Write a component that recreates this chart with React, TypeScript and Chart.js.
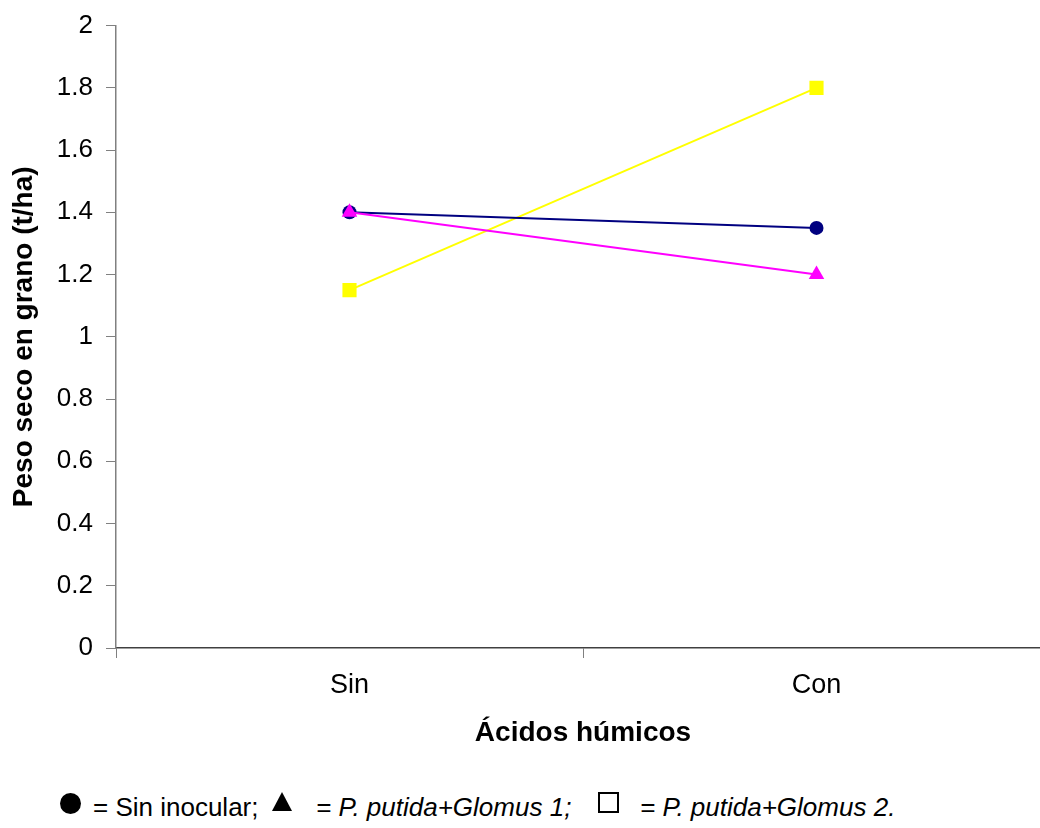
import React, { useEffect, useRef } from "react";
import { Chart, registerables } from "chart.js";

Chart.register(...registerables);

// Categories on the x axis (humic acids applied or not)
const categories = ["Sin", "Con"];

// Grain dry weight (t/ha) per treatment
const sinInocular = [1.4, 1.35];
const putidaGlomus1 = [1.4, 1.2];
const putidaGlomus2 = [1.15, 1.8];

// Y axis range
const yMin = 0;
const yMax = 2;
const yStep = 0.2;

const FONT = "Arial, 'Liberation Sans', sans-serif";

export default function App() {
  const canvasRef = useRef<HTMLCanvasElement | null>(null);

  useEffect(() => {
    if (!canvasRef.current) return;
    const chart = new Chart(canvasRef.current, {
      type: "line",
      data: {
        labels: categories,
        datasets: [
          {
            label: "Sin inocular",
            data: sinInocular,
            borderColor: "#000080",
            backgroundColor: "#000080",
            borderWidth: 2,
            pointStyle: "circle",
            pointRadius: 7,
            pointBorderWidth: 0,
            order: 2,
          },
          {
            label: "P. putida+Glomus 1",
            data: putidaGlomus1,
            borderColor: "#FF00FF",
            backgroundColor: "#FF00FF",
            borderWidth: 2,
            pointStyle: "triangle",
            pointRadius: 9,
            pointBorderWidth: 0,
            order: 1,
          },
          {
            label: "P. putida+Glomus 2",
            data: putidaGlomus2,
            borderColor: "#FFFF00",
            backgroundColor: "#FFFF00",
            borderWidth: 2,
            pointStyle: "rect",
            pointRadius: 10,
            pointBorderWidth: 0,
            order: 3,
          },
        ],
      },
      options: {
        animation: false,
        responsive: false,
        maintainAspectRatio: false,
        layout: { padding: { top: 22, right: 8, left: 0, bottom: 0 } },
        plugins: {
          legend: { display: false },
          tooltip: { enabled: false },
        },
        elements: { line: { tension: 0 } },
        scales: {
          x: {
            type: "category",
            offset: true,
            grid: {
              offset: true,
              drawOnChartArea: false,
              drawTicks: true,
              tickLength: 10,
              color: "#808080",
              tickColor: "#808080",
            },
            border: { color: "#404040", width: 1.5 },
            ticks: {
              color: "#000",
              font: { family: FONT, size: 27 },
              padding: 11,
            },
            title: {
              display: true,
              text: "Ácidos húmicos",
              color: "#000",
              font: { family: FONT, size: 28, weight: "bold" },
              padding: { top: 0, bottom: 20 },
            },
            afterFit: (scale: any) => {
              scale.height = 122;
            },
          },
          y: {
            min: yMin,
            max: yMax,
            grid: {
              drawOnChartArea: false,
              drawTicks: true,
              tickLength: 10,
              color: "#808080",
              tickColor: "#808080",
            },
            border: { color: "#808080", width: 1.5 },
            ticks: {
              stepSize: yStep,
              color: "#000",
              font: { family: FONT, size: 26 },
              padding: 13,
              callback: (v: any) => String(Math.round(Number(v) * 10) / 10),
            },
            title: {
              display: true,
              text: "Peso seco en grano (t/ha)",
              color: "#000",
              font: { family: FONT, size: 28, weight: "bold" },
              padding: { top: 7, bottom: 0 },
            },
            afterFit: (scale: any) => {
              scale.width = 116;
            },
          },
        },
      },
    });
    return () => chart.destroy();
  }, []);

  const text: React.CSSProperties = {
    position: "absolute",
    top: 794,
    fontFamily: FONT,
    fontSize: 26,
    lineHeight: "26px",
    color: "#000",
    whiteSpace: "pre",
  };

  return (
    <div
      style={{
        position: "fixed",
        left: 0,
        top: 0,
        width: 1040,
        height: 828,
        overflow: "hidden",
        background: "#fff",
      }}
    >
      <canvas
        ref={canvasRef}
        width={1060}
        height={773}
        style={{ position: "absolute", left: 0, top: -3, width: 1060, height: 773 }}
      />
      {/* key below the chart */}
      <div
        style={{
          position: "absolute",
          left: 60,
          top: 793,
          width: 21,
          height: 21,
          borderRadius: "50%",
          background: "#000",
        }}
      />
      <span style={{ ...text, left: 93 }}>= Sin inocular;</span>
      <div
        style={{
          position: "absolute",
          left: 272,
          top: 792,
          width: 0,
          height: 0,
          borderLeft: "10px solid transparent",
          borderRight: "10px solid transparent",
          borderBottom: "19px solid #000",
        }}
      />
      <span style={{ ...text, left: 316, fontStyle: "italic" }}>= P. putida+Glomus 1;</span>
      <div
        style={{
          position: "absolute",
          left: 598,
          top: 792,
          width: 17,
          height: 17,
          border: "2px solid #000",
        }}
      />
      <span style={{ ...text, left: 640, fontStyle: "italic" }}>= P. putida+Glomus 2.</span>
    </div>
  );
}
